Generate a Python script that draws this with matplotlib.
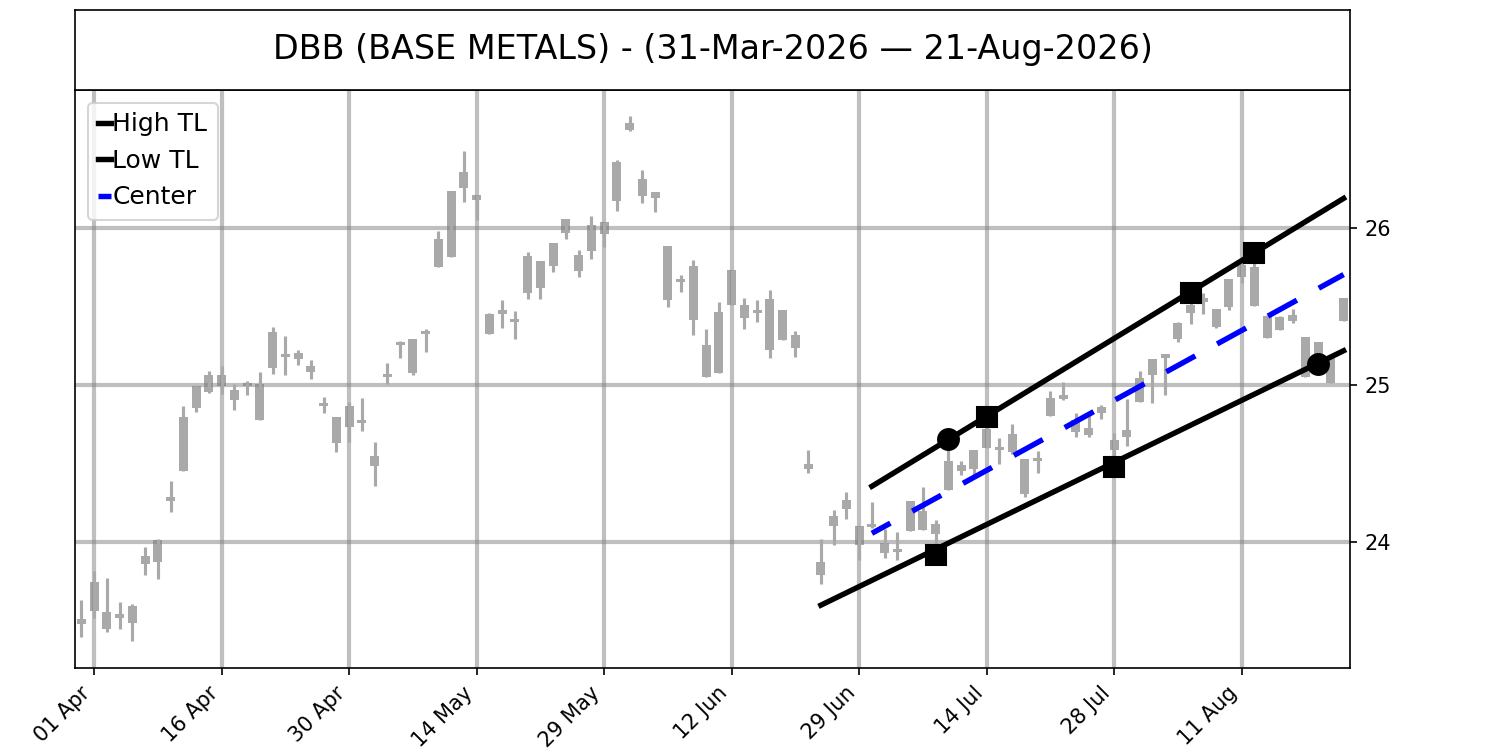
import numpy as np
import pandas as pd
import matplotlib
matplotlib.use("Agg")
import matplotlib.pyplot as plt

# trading days (NYSE holidays removed)
holidays = ["2026-04-03", "2026-05-25", "2026-06-19", "2026-07-03"]
dates = pd.bdate_range("2026-03-31", "2026-08-21", freq="C", holidays=holidays)

# candle values
opens = [23.51, 23.562, 23.556, 23.546, 23.486, 23.913, 23.875, 24.289, 24.454, 24.858,
         25.066, 25.066, 24.972, 25.007, 25.007, 25.108, 25.189, 25.165, 25.125, 24.877,
         24.795, 24.868, 24.773, 24.55, 25.05, 25.255, 25.08, 25.325, 25.756, 25.815,
         26.259, 26.212, 25.454, 25.454, 25.4, 25.59, 25.618, 25.76, 25.968, 25.83,
         25.856, 26.04, 26.174, 26.628, 26.316, 26.229, 25.887, 25.673, 25.758, 25.05,
         25.078, 25.51, 25.51, 25.482, 25.552, 25.478, 25.318, 24.5, 23.875, 24.104,
         24.21, 24.102, 24.106, 23.996, 23.96, 24.072, 24.08, 24.12, 24.335, 24.452,
         24.47, 24.603, 24.597, 24.575, 24.533, 24.516, 24.803, 24.91, 24.705, 24.684,
         24.822, 24.588, 24.669, 24.896, 25.066, 25.176, 25.293, 25.459, 25.533, 25.374,
         25.501, 25.692, 25.505, 25.3, 25.352, 25.412, 25.306, 25.278, 25.013, 25.412]
highs = [23.63, 23.815, 23.77, 23.618, 23.605, 23.968, 24.024, 24.389, 24.866, 25.0,
         25.09, 25.125, 25.01, 25.026, 25.085, 25.373, 25.314, 25.224, 25.16, 24.925,
         24.796, 24.896, 24.92, 24.64, 25.144, 25.282, 25.293, 25.359, 25.985, 26.238,
         26.493, 26.212, 25.463, 25.543, 25.473, 25.849, 25.794, 25.904, 26.06, 25.862,
         26.076, 26.04, 26.437, 26.713, 26.37, 26.229, 25.887, 25.7, 25.8, 25.36,
         25.529, 25.737, 25.558, 25.541, 25.609, 25.478, 25.344, 24.59, 24.023, 24.204,
         24.32, 24.102, 24.257, 24.087, 24.066, 24.263, 24.352, 24.14, 24.62, 24.52,
         24.586, 24.783, 24.667, 24.752, 24.533, 24.582, 24.964, 25.02, 24.826, 24.81,
         24.875, 24.694, 24.91, 25.09, 25.166, 25.193, 25.406, 25.56, 25.586, 25.484,
         25.675, 25.788, 25.828, 25.448, 25.44, 25.484, 25.306, 25.278, 25.2, 25.554]
lows = [23.395, 23.516, 23.43, 23.45, 23.37, 23.79, 23.766, 24.193, 24.454, 24.83,
        24.953, 24.943, 24.84, 24.936, 24.776, 25.07, 25.066, 25.132, 25.042, 24.825,
        24.577, 24.64, 24.71, 24.36, 25.006, 25.176, 25.064, 25.214, 25.756, 25.815,
        26.166, 26.053, 25.327, 25.367, 25.297, 25.548, 25.552, 25.72, 25.932, 25.692,
        25.805, 25.88, 26.11, 26.62, 26.16, 26.104, 25.5, 25.594, 25.323, 25.05,
        25.078, 25.51, 25.36, 25.403, 25.176, 25.29, 25.18, 24.44, 23.737, 23.985,
        24.15, 23.89, 24.09, 23.902, 23.89, 24.072, 24.08, 23.917, 24.335, 24.427,
        24.412, 24.603, 24.497, 24.56, 24.289, 24.444, 24.803, 24.907, 24.673, 24.673,
        24.786, 24.478, 24.614, 24.896, 24.885, 24.938, 25.278, 25.39, 25.454, 25.363,
        25.48, 25.65, 25.505, 25.3, 25.352, 25.395, 25.055, 25.1, 25.013, 25.412]
closes = [23.48, 23.747, 23.45, 23.52, 23.597, 23.864, 24.017, 24.266, 24.798, 24.994,
          24.96, 24.995, 24.906, 24.995, 24.776, 25.337, 25.18, 25.203, 25.085, 24.87,
          24.63, 24.732, 24.762, 24.486, 25.06, 25.276, 25.293, 25.338, 25.932, 26.238,
          26.355, 26.18, 25.327, 25.48, 25.41, 25.82, 25.794, 25.904, 26.06, 25.73,
          26.023, 25.966, 26.42, 26.67, 26.206, 26.19, 25.546, 25.658, 25.418, 25.255,
          25.467, 25.737, 25.431, 25.46, 25.227, 25.29, 25.24, 24.469, 23.79, 24.168,
          24.272, 23.98, 24.096, 23.932, 23.94, 24.263, 24.2, 24.055, 24.518, 24.49,
          24.586, 24.724, 24.586, 24.692, 24.306, 24.522, 24.921, 24.938, 24.78, 24.726,
          24.864, 24.652, 24.715, 25.045, 25.166, 25.193, 25.395, 25.512, 25.544, 25.484,
          25.675, 25.766, 25.756, 25.442, 25.433, 25.448, 25.055, 25.14, 25.183, 25.554]

# trend lines (start/end bar, value)
high_tl_x = [62, 99]
high_tl_y = [24.357, 26.19]
low_tl_x = [58, 99]
low_tl_y = [23.60, 25.22]

# pivot markers
high_sq_x = [71, 87, 92]
high_sq_y = [24.80, 25.59, 25.84]
high_circ_x = [68]
high_circ_y = [24.655]
low_sq_x = [67, 81]
low_sq_y = [23.917, 24.478]
low_circ_x = [97]
low_circ_y = [25.134]

o = np.array(opens)
c = np.array(closes)
h = np.array(highs)
l = np.array(lows)
x = np.arange(len(dates))

fig = plt.figure(figsize=(10, 5), dpi=150)
ax = fig.add_axes([0.05, 0.10933, 0.85, 0.77067])
ax_t = fig.add_axes([0.05, 0.88, 0.85, 0.10667])

# title box
ax_t.set_xticks([])
ax_t.set_yticks([])
title = "DBB (BASE METALS) - ({} \u2014 {})".format(
    dates[0].strftime("%d-%b-%Y"), dates[-1].strftime("%d-%b-%Y"))
ax_t.text(0.5, 0.5, title, ha="center", va="center", fontsize=16,
          transform=ax_t.transAxes)

# candles
body_lo = np.minimum(o, c)
body_h = np.maximum(np.abs(c - o), 0.02)
ax.vlines(x, l, h, color="darkgray", linewidth=1.5)
ax.bar(x, body_h, bottom=body_lo, width=0.7, color="darkgray")

# trend lines
hx = np.arange(high_tl_x[0], high_tl_x[1] + 1)
lx = np.arange(low_tl_x[0], low_tl_x[1] + 1)
hy = np.interp(hx, high_tl_x, high_tl_y)
ly = np.interp(lx, low_tl_x, low_tl_y)
cx = hx
cy = (hy + np.interp(cx, low_tl_x, low_tl_y)) / 2

ax.plot(hx, hy, color="black", lw=2.6, label="High TL")
ax.plot(lx, ly, color="black", lw=2.6, label="Low TL")
ax.plot(cx, cy, color="blue", lw=2.6, ls=(2.2, (6.1, 4.6)), label="Center")

ax.plot(high_sq_x, high_sq_y, "s", color="black", markersize=10)
ax.plot(low_sq_x, low_sq_y, "s", color="black", markersize=10)
ax.plot(high_circ_x, high_circ_y, "o", color="black", markersize=10)
ax.plot(low_circ_x, low_circ_y, "o", color="black", markersize=10)

# axes
ax.set_xlim(-0.5, len(dates) - 0.5)
ax.set_ylim(23.2, 26.88)
ax.yaxis.tick_right()
ax.set_yticks([24, 25, 26])
ax.set_xticks(x[1::10])
ax.set_xticklabels([d.strftime("%d %b") for d in dates[1::10]], rotation=45, ha="right")
ax.grid(True, color="grey", alpha=0.5, linewidth=2)

ax.legend(loc="upper left", fontsize=12, handlelength=0.55, handletextpad=0.05)

fig.savefig("out.png", dpi=150)
